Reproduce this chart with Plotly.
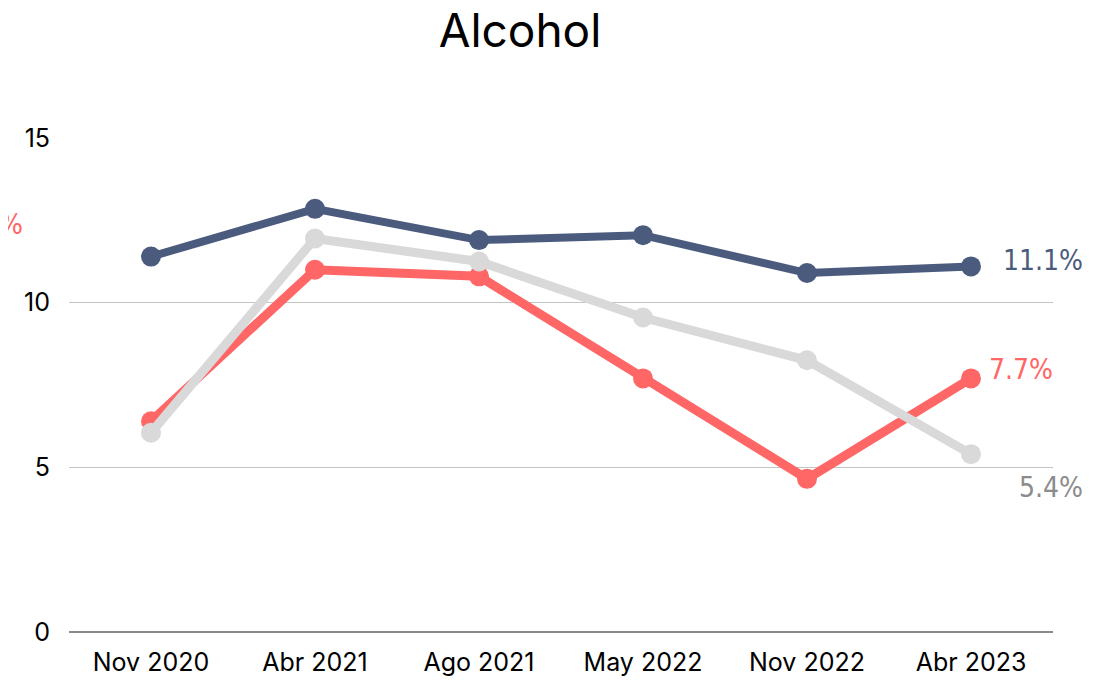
import plotly.graph_objects as go

# Survey rounds and % values
periods = ["Nov 2020", "Abr 2021", "Ago 2021", "May 2022", "Nov 2022", "Abr 2023"]
navy_vals = [11.4, 12.85, 11.9, 12.05, 10.9, 11.1]
red_vals = [6.4, 11.0, 10.8, 7.7, 4.65, 7.7]
gray_vals = [6.05, 11.95, 11.25, 9.55, 8.25, 5.4]

NAVY = "#4b5b7e"
RED = "#ff6666"
GRAY = "#d9d9d9"
LABEL_FONT = dict(family="DejaVu Sans Condensed", size=28)
MAIN_FONT = "Inter, Roboto, sans-serif"

# the page body adds an 8px offset, so margins are shifted to compensate
OFF = 8
L, T = 69 - OFF, 138 - OFF
PW, PH = 984, 494
R, B = 1104 - L - PW, 691 - T - PH


def px_x(p):
    # screen pixel -> paper x
    return (p - OFF - L) / PW


def px_y(p):
    # screen pixel -> paper y
    return (T + PH - (p - OFF)) / PH


fig = go.Figure()

# drawing order: red, gray, navy (gray sits on top of red)
for vals, color, width in [(red_vals, RED, 9), (gray_vals, GRAY, 9), (navy_vals, NAVY, 8)]:
    fig.add_trace(go.Scatter(
        x=periods, y=vals,
        mode="lines+markers",
        line=dict(color=color, width=width),
        marker=dict(color=color, size=20),
        hoverinfo="skip",
        showlegend=False,
        cliponaxis=False,
    ))

# end labels
fig.add_annotation(x=periods[-1], y=navy_vals[-1], text=f"{navy_vals[-1]:.1f}%",
                   xshift=72, yshift=6, showarrow=False,
                   font=dict(LABEL_FONT, color=NAVY))
fig.add_annotation(x=periods[-1], y=red_vals[-1], text=f"{red_vals[-1]:.1f}%",
                   xshift=50, yshift=9, showarrow=False,
                   font=dict(LABEL_FONT, color=RED))
fig.add_annotation(x=periods[-1], y=gray_vals[-1], text=f"{gray_vals[-1]:.1f}%",
                   xshift=80, yshift=-33, showarrow=False,
                   font=dict(LABEL_FONT, color="#8c8c8c"))

# stray label cut off at the left edge
fig.add_annotation(xref="paper", yref="paper", x=px_x(24), y=px_y(224),
                   xanchor="right", yanchor="middle", borderpad=0,
                   text=f"{red_vals[0]:.1f}%", showarrow=False,
                   font=dict(LABEL_FONT, color=RED))

fig.update_layout(
    width=1104, height=691,
    margin=dict(l=L, r=R, t=T, b=B),
    paper_bgcolor="white", plot_bgcolor="white",
    title=dict(text="Alcohol", x=(520 - OFF) / 1104, xanchor="center",
               y=1 - (31 - OFF) / 691, yanchor="middle",
               font=dict(family=MAIN_FONT, size=46, color="black")),
    font=dict(family=MAIN_FONT, color="black"),
    xaxis=dict(range=[-0.5, 5.5], showgrid=False, showline=False, zeroline=False, ticks="",
               tickfont=dict(size=25, color="black"), ticklabelstandoff=13),
    yaxis=dict(range=[0, 15], tickvals=[0, 5, 10, 15], showgrid=True,
               gridcolor="#c4c4c4", gridwidth=1.3, zeroline=True, zerolinecolor="#8a8a8a",
               zerolinewidth=1.5, showline=False, ticks="",
               tickfont=dict(size=25, color="black"), ticklabelstandoff=18),
)

fig.write_html("out.html")
